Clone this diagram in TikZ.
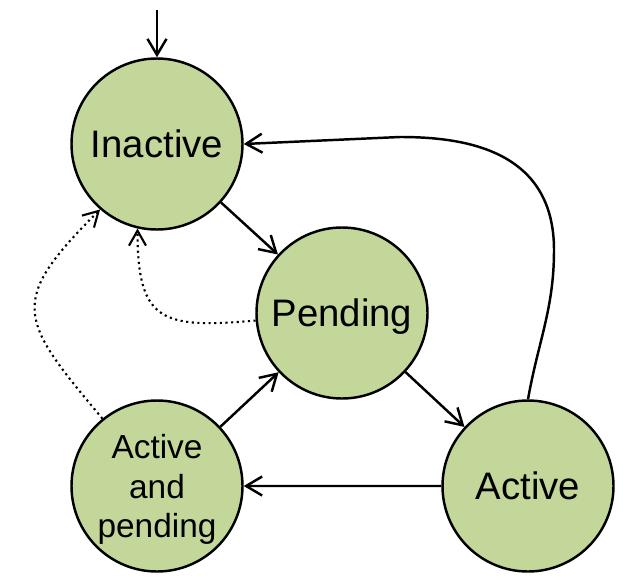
\documentclass[tikz,border=0pt]{standalone}
\usepackage{fontspec}
\setmainfont{Liberation Sans}
\usetikzlibrary{positioning, arrows.meta}
\definecolor{stategreen}{RGB}{196,215,155}

\begin{document}
\begin{tikzpicture}[node distance=3cm, on grid]

	\tikzstyle{state}=[draw, circle, fill=stategreen, line width=1.4pt, minimum size=3.42cm, inner sep=0pt, text depth=0pt, font=\fontsize{21.8}{25}\selectfont]
	\tikzstyle{trans}=[-{Straight Barb[length=3.2mm, width=3.8mm]}, line width=1.4pt]
	\tikzstyle{reset}=[-{Straight Barb[length=3mm, width=3.4mm]}, line width=1.2pt, dotted]

	\useasboundingbox (0,0) rectangle (12.88,-11.72);

	\node[state] (inactive) at (3.14,-2.88) {Inactive};
	\node[state, below right=3.38cm and 3.7cm of inactive] (pending) {Pending};
	\node[state, below right=3.46cm and 3.72cm of pending] (active) {Active};
	\node[state, below=6.84cm of inactive, align=center, font=\fontsize{19}{22.7}\selectfont] (both) {Active\\and\\pending};

	\coordinate[above=2.68cm of inactive] (entry);
	\coordinate (bend) at (11.08,-5.0);
	\coordinate (topturn) at (8,-2.74);

	\draw[trans] (entry) -- (inactive);
	\draw[trans] (inactive) -- (pending);
	\draw[trans] (pending) -- (active);
	\draw[trans] (active) -- (both);
	\draw[trans] (both) -- (pending);
	\draw[trans] (active.north) to[out=80, in=-90] (bend) .. controls +(0,2) and +(1.3,0) .. (topturn) -- (inactive.east);

	% back to inactive
	\draw[reset] (pending.185) to[out=185, in=-90, looseness=1.6] (inactive.257);
	\draw[reset] (both.129) to[out=130, in=225, looseness=1.6] (inactive.229);

\end{tikzpicture}
\end{document}
